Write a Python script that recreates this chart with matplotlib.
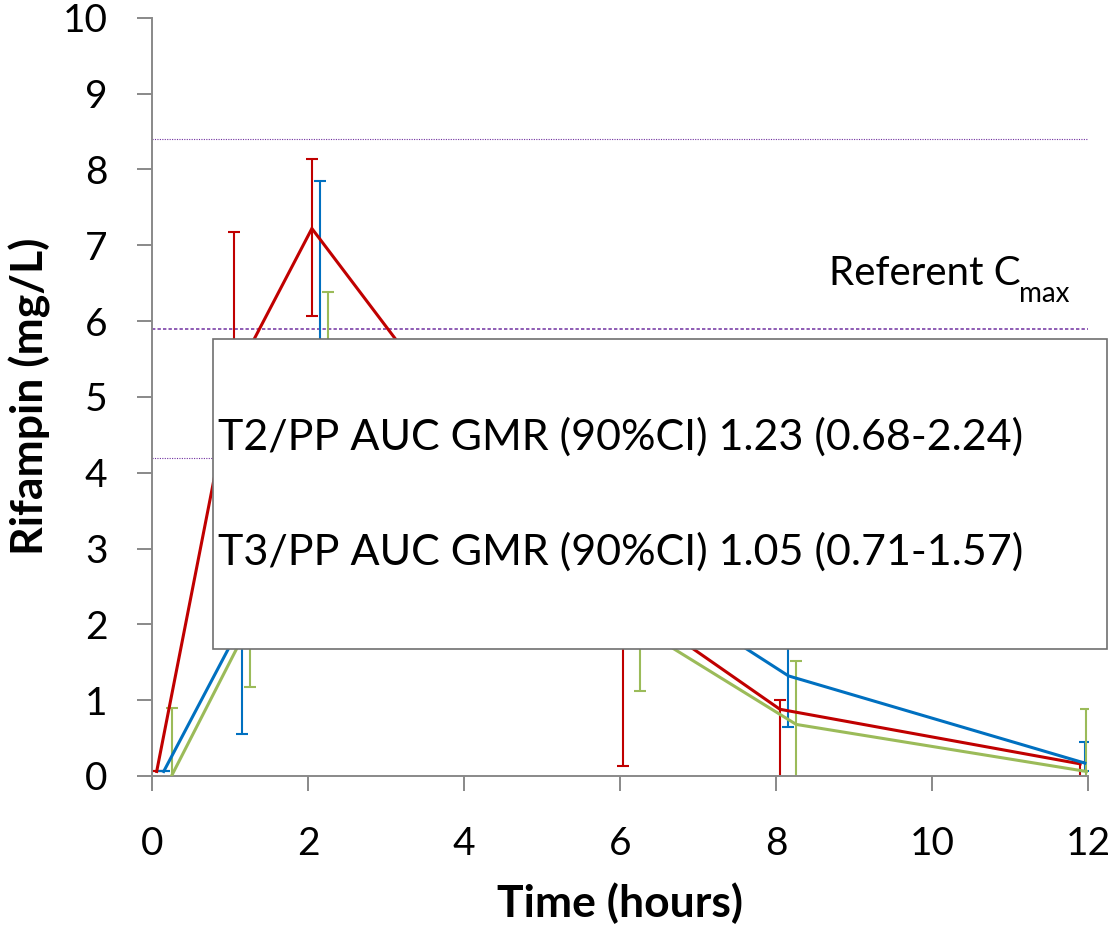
import matplotlib
matplotlib.use("Agg")
import matplotlib.pyplot as plt
from matplotlib.patches import Rectangle
import numpy as np

plt.rcParams['font.family'] = ['Lato', 'DejaVu Sans']

# ---- data ----
red_x = [0.06, 1.05, 2.05, 4.05, 6.04, 8.05, 11.90]
red_y = [0.06, 5.25, 7.22, 4.50, 2.32, 0.88, 0.16]
red_lo = [0.06, 3.30, 6.07, 3.00, 0.13, -0.50, -0.30]
red_hi = [0.06, 7.17, 8.14, 5.50, 4.50, 1.00, 0.18]

blue_x = [0.15, 1.16, 2.16, 4.15, 6.15, 8.16, 11.96]
blue_y = [0.06, 2.03, 5.00, 4.00, 2.65, 1.32, 0.17]
blue_lo = [0.06, 0.55, 2.20, 2.50, 1.90, 0.65, 0.07]
blue_hi = [0.06, 3.50, 7.85, 5.50, 3.40, 2.00, 0.45]

green_x = [0.25, 1.26, 2.26, 4.25, 6.26, 8.26, 11.98]
green_y = [0.00, 2.03, 4.30, 3.20, 1.95, 0.68, 0.06]
green_lo = [-0.50, 1.17, 2.30, 2.00, 1.12, -0.30, -0.30]
green_hi = [0.90, 2.90, 6.38, 4.50, 2.80, 1.52, 0.89]

ref_levels = [8.4, 5.9, 4.2]
x_ticks = [0, 2, 4, 6, 8, 10, 12]
y_ticks = [0, 1, 2, 3, 4, 5, 6, 7, 8, 9, 10]
box_lines = ["T2/PP AUC GMR (90%CI) 1.23 (0.68-2.24)",
             "T3/PP AUC GMR (90%CI) 1.05 (0.71-1.57)"]

RED, BLUE, GREEN = "#C00000", "#0070C0", "#9BBB59"
PURPLE = "#7030A0"
AXGRAY = "#898989"

W, H = 1112, 927
fig = plt.figure(figsize=(W / 100, H / 100), dpi=100)
ax = fig.add_axes([152 / W, 1 - 776 / H, (1088 - 152) / W, (776 - 17.7) / H])

# reference lines
ax.hlines(ref_levels[0], 0, 12, colors=PURPLE, linestyles=(0, (1, 1.2)), linewidth=0.8, zorder=1)
ax.hlines(ref_levels[1], 0, 12, colors=PURPLE, linestyles=(0, (2.2, 1.4)), linewidth=1.1, zorder=1)
ax.hlines(ref_levels[2], 0, 12, colors=PURPLE, linestyles=(0, (1, 1.2)), linewidth=0.8, zorder=1)

for xs, ys, lo, hi, c in [(red_x, red_y, red_lo, red_hi, RED),
                          (blue_x, blue_y, blue_lo, blue_hi, BLUE),
                          (green_x, green_y, green_lo, green_hi, GREEN)]:
    ys_a = np.array(ys); lo_a = np.array(lo); hi_a = np.array(hi)
    ax.errorbar(xs, ys_a, yerr=[ys_a - lo_a, hi_a - ys_a], fmt='none', ecolor=c,
                elinewidth=1.5, capsize=4.5, capthick=1.5, zorder=2)
    ax.plot(xs, ys_a, color=c, linewidth=2.2, zorder=3, solid_joinstyle='miter')

ax.set_xlim(0, 12)
ax.set_ylim(0, 10)
ax.set_xticks(x_ticks)
ax.set_yticks(y_ticks)
for s in ['top', 'right']:
    ax.spines[s].set_visible(False)
for s in ['left', 'bottom']:
    ax.spines[s].set_color(AXGRAY)
    ax.spines[s].set_linewidth(1.4)
ax.tick_params(axis='both', colors=AXGRAY, length=11, width=1.4, labelcolor='black',
               labelsize=28, pad=21, direction='out')
ax.tick_params(axis='x', pad=25)

# Referent Cmax label
t1 = ax.text(8.68, 6.47, "Referent C", fontsize=29, va='baseline', ha='left', zorder=4)
ax.annotate("max", xy=(1, 0), xycoords=t1, xytext=(-1.5, -7), textcoords='offset points',
            fontsize=20, va='baseline', ha='left', zorder=4)

# axis labels
fig.text(30 / W, 1 - 396 / H, "Rifampin (mg/L)", rotation=90, fontsize=32,
         fontweight='bold', ha='center', va='center')
fig.text(620 / W, 1 - 903 / H, "Time (hours)", fontsize=32, fontweight='bold',
         ha='center', va='center')

# overlay box
rect = Rectangle((213 / W, 1 - 649 / H), (1107 - 213) / W, (649 - 339) / H,
                 transform=fig.transFigure, facecolor='white', edgecolor='#707070',
                 linewidth=1.2, zorder=10)
fig.add_artist(rect)
fig.text(218 / W, 1 - 437 / H, box_lines[0], fontsize=31, ha='left', va='center', zorder=11)
fig.text(218 / W, 1 - 552 / H, box_lines[1], fontsize=31, ha='left', va='center', zorder=11)

fig.savefig("out.png", dpi=100)
